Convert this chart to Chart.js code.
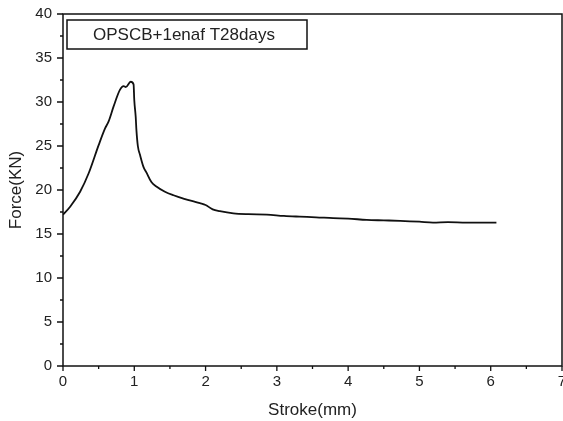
<!DOCTYPE html>
<html>
<head>
<meta charset="utf-8">
<script src="https://cdn.jsdelivr.net/npm/chart.js@4/dist/chart.umd.min.js"></script>
<style>
  html, body { margin: 0; padding: 0; background: #fff; }
  #wrap { width: 563px; height: 421px; }
</style>
</head>
<body>
<div id="wrap"><canvas id="myChart"></canvas></div>
<script>

//data

const seriesName = 'OPSCB+1enaf T28days';

const stroke = [0, 0.1, 0.24, 0.36, 0.5, 0.59, 0.64, 0.71, 0.8, 0.85, 0.88, 0.95, 0.99, 1.0, 1.02, 1.03,
  1.05, 1.08, 1.13, 1.17, 1.24, 1.31, 1.43, 1.55, 1.7, 1.92, 2.0, 2.1, 2.2, 2.39, 2.6, 2.86, 3.1, 3.32,
  3.55, 3.79, 4.0, 4.26, 4.5, 4.73, 5.0, 5.19, 5.4, 5.66, 5.9, 6.08];

const force = [17.2, 18.1, 19.8, 21.9, 25.1, 27.0, 27.8, 29.5, 31.4, 31.8, 31.7, 32.3, 32.0, 30.2, 28.3, 26.8,
  25.0, 24.0, 22.6, 22.0, 20.9, 20.4, 19.8, 19.4, 19.0, 18.5, 18.3, 17.8, 17.6, 17.35, 17.25, 17.2, 17.05, 16.97,
  16.9, 16.8, 16.75, 16.6, 16.55, 16.5, 16.4, 16.3, 16.35, 16.3, 16.3, 16.3];

const xTicks = [0, 1, 2, 3, 4, 5, 6, 7];
const yTicks = [0, 5, 10, 15, 20, 25, 30, 35, 40];

//plugin: frame, major/minor ticks and the boxed label

const framePlugin = {
  id: 'frame',
  afterDraw(chart) {
    const {ctx, chartArea: a, scales: {x, y}} = chart;
    ctx.save();
    ctx.strokeStyle = '#111';
    ctx.lineWidth = 1.5;
    ctx.strokeRect(a.left, a.top, a.right - a.left, a.bottom - a.top);

    ctx.lineWidth = 1.3;
    ctx.beginPath();
    for (let v = 0; v <= 7; v += 0.5) {
      const px = x.getPixelForValue(v);
      const len = Number.isInteger(v) ? 5 : 3;
      ctx.moveTo(px, a.bottom);
      ctx.lineTo(px, a.bottom + len);
    }
    for (let v = 0; v <= 40; v += 2.5) {
      const py = y.getPixelForValue(v);
      const len = v % 5 === 0 ? 6 : 3;
      ctx.moveTo(a.left, py);
      ctx.lineTo(a.left - len, py);
    }
    ctx.stroke();

    // label box
    const bx = a.left + 4, by = a.top + 6, bw = 240, bh = 29;
    ctx.lineWidth = 1.5;
    ctx.strokeRect(bx, by, bw, bh);
    ctx.fillStyle = '#222';
    ctx.font = '17px "Liberation Sans", Arial, sans-serif';
    ctx.textBaseline = 'middle';
    ctx.fillText(chart.data.datasets[0].label, bx + 26, by + bh / 2 + 1);
    ctx.restore();
  }
};

//config

const config = {
  type: 'line',
  data: {
    datasets: [{
      label: seriesName,
      data: stroke.map((s, i) => ({x: s, y: force[i]})),
      borderColor: '#111',
      borderWidth: 1.8,
      pointRadius: 0,
      fill: false,
      cubicInterpolationMode: 'monotone'
    }]
  },
  options: {
    responsive: true,
    maintainAspectRatio: false,
    animation: false,
    layout: { padding: { top: 14, right: 1, left: 0, bottom: 0 } },
    plugins: {
      legend: { display: false },
      tooltip: { enabled: false }
    },
    scales: {
      x: {
        type: 'linear',
        min: 0,
        max: 7,
        afterBuildTicks(scale) { scale.ticks = xTicks.map(v => ({value: v})); },
        afterFit(scale) { scale.height = 55; scale.paddingLeft = 0; scale.paddingRight = 0; },
        grid: { drawOnChartArea: false, tickLength: 5, tickColor: 'rgba(0,0,0,0)' },
        border: { display: false },
        ticks: {
          padding: 2,
          color: '#222',
          maxRotation: 0,
          font: { family: '"Liberation Sans", Arial, sans-serif', size: 15 }
        },
        title: {
          display: true,
          text: 'Stroke(mm)',
          color: '#222',
          padding: { top: 0, bottom: 0 },
          font: { family: '"Liberation Sans", Arial, sans-serif', size: 17 }
        }
      },
      y: {
        min: 0,
        max: 40,
        afterBuildTicks(scale) { scale.ticks = yTicks.map(v => ({value: v})); },
        afterFit(scale) { scale.width = 63; },
        grid: { drawOnChartArea: false, tickLength: 6, tickColor: 'rgba(0,0,0,0)' },
        border: { display: false },
        ticks: {
          padding: 5,
          color: '#222',
          font: { family: '"Liberation Sans", Arial, sans-serif', size: 15 }
        },
        title: {
          display: true,
          text: 'Force(KN)',
          color: '#222',
          padding: { top: 6, bottom: 0 },
          font: { family: '"Liberation Sans", Arial, sans-serif', size: 17 }
        }
      }
    }
  },
  plugins: [framePlugin]
};

//render

const myChart = new Chart(document.getElementById('myChart'), config);

</script>
</body>
</html>
